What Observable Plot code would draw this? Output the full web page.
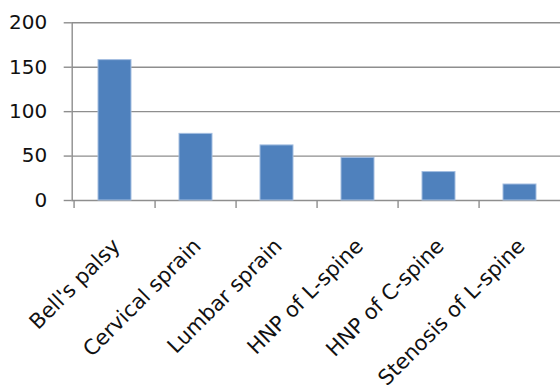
<!DOCTYPE html>
<html>
<head>
<meta charset="utf-8">
<script src="https://cdn.jsdelivr.net/npm/d3@7"></script>
<script src="https://cdn.jsdelivr.net/npm/@observablehq/plot@0.6"></script>
<style>
  html, body { margin: 0; padding: 0; background: #fff; }
</style>
</head>
<body>
<div id="chart"></div>
<script>
// Diagnoses and their patient counts
const categories = ["Bell's palsy", "Cervical sprain", "Lumbar sprain", "HNP of L-spine", "HNP of C-spine", "Stenosis of L-spine"];
const counts = [158, 75, 62, 48, 32, 18];
const yTicks = [0, 50, 100, 150, 200];

const data = categories.map((category, i) => ({category, count: counts[i]}));

const W = 560, H = 385;
const marginLeft = 71.7, marginRight = -2.8, marginTop = 22.3, marginBottom = 185;
const step = (W - marginLeft - marginRight) / categories.length;
const gridColor = "#8e8e8e";
const font = "'DejaVu Sans', sans-serif";

const chart = Plot.plot({
  width: W,
  height: H,
  marginLeft, marginRight, marginTop, marginBottom,
  style: {fontFamily: font, fontSize: "20px", color: "#111", background: "#fff", overflow: "visible"},
  x: {domain: categories, paddingInner: 0.593, paddingOuter: 0.2965, axis: null},
  y: {domain: [0, 200], axis: null},
  marks: [
    Plot.gridY(yTicks, {stroke: gridColor, strokeOpacity: 1, strokeWidth: 1.4}),
    Plot.axisY(yTicks, {tickSize: 8, tickPadding: 17, stroke: gridColor, strokeWidth: 1.4, fontSize: 20, fill: "#111", label: null}),
    Plot.frame({anchor: "left", stroke: gridColor, strokeWidth: 1.4}),
    Plot.barY(data, {x: "category", y: "count", fill: "#4f81bd", stroke: "#a3bde0", strokeWidth: 1}),
    // category separators below the baseline
    Plot.axisX({tickSize: 8, text: null, dx: -step / 2, stroke: gridColor, strokeWidth: 1.4, label: null}),
    Plot.text(data, {
      x: "category", text: "category", frameAnchor: "bottom",
      rotate: -45, textAnchor: "end", lineAnchor: "middle",
      dx: 1.5, dy: 42, fontSize: 21, fill: "#111"
    })
  ]
});

document.getElementById("chart").appendChild(chart);
</script>
</body>
</html>
